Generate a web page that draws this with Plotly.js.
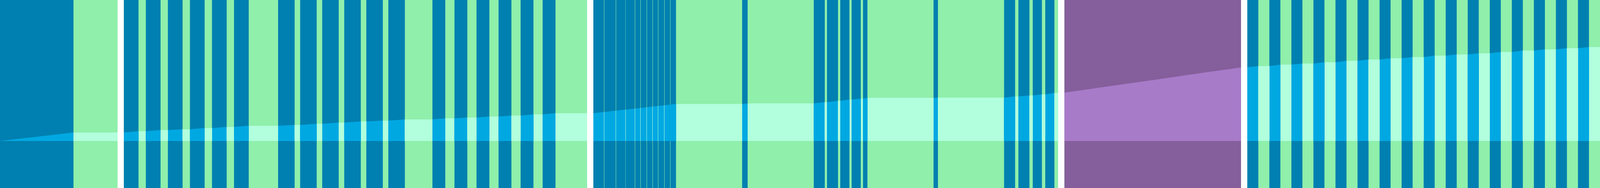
<!DOCTYPE html>
<html>
<head>
<meta charset="utf-8">
<script src="https://cdn.plot.ly/plotly-3.0.1.min.js"></script>
<style>
  html, body { margin: 0; padding: 0; background: #ffffff; overflow: hidden; }
</style>
</head>
<body>
<div id="chart"></div>
<script>
// colours: dark band / band under the line / background / background under the line
var DARK = "#0080B0", BRIGHT = "#00A8E2", GREEN = "#8FEFAB", PALE = "#B1FFDD";
var PURPLE = "#845F9B", LILAC = "#A87BC9";

// time in hours from the start of each panel, level on the y axis

// panel 1
var p1Hours = 128;
var p1DarkStart = [0];
var p1DarkEnd = [80];
var p1LineT = [0, 80, 128];
var p1LineV = [0, 7.23, 7.23];

// panel 2
var p2Hours = 504.4;
var p2DarkStart = [0, 24, 48, 72, 96, 120, 168, 192, 216, 240, 264, 288, 336, 360, 384, 408, 432, 456];
var p2DarkEnd = [16, 40, 64, 88, 112, 136, 186, 210, 234, 258, 282, 306, 350, 374, 398, 422, 446, 470];
var p2LineT = [0, 16, 24, 40, 48, 64, 72, 88, 96, 112, 120, 136, 168, 186, 192, 210, 216, 234, 240, 258, 264, 282, 288, 306,
               336, 350, 360, 374, 384, 398, 408, 422, 432, 446, 456, 470, 504.4];
var p2LineV = [7.23, 8.33, 8.33, 9.33, 9.33, 10, 10, 11, 11, 12, 12, 13, 13, 13.67, 13.67, 14.67, 14.67, 15.67, 15.67, 16.67,
               16.67, 17.33, 17.33, 18.33, 18.33, 19.33, 19.33, 20, 20, 20.83, 20.83, 21.67, 21.67, 22.67, 22.67, 23.67, 23.67];

// panel 3
var p3Hours = 506;
var p3DarkStart = [0, 12, 24.8, 35.2, 45.6, 51.6, 58.4, 64.8, 70.8, 77.6, 84, 162, 240, 254.4, 268.8, 281.2, 293.6, 370.4,
                   447.2, 462.8, 478.4, 492];
var p3DarkEnd = [11.6, 24.4, 35, 45.2, 51.2, 58, 64.4, 70.4, 77.2, 83.6, 90, 168, 252, 266.4, 278.8, 291.2, 298.4, 375.2,
                 459.2, 474.8, 488.4, 502];
var p3LineT = [0, 90, 162, 168, 240, 252, 254.4, 266.4, 268.8, 278.8, 281.2, 291.2, 293.6, 298.4, 370.4, 375.2, 447.2,
               459.2, 462.8, 474.8, 478.4, 488.4, 492, 502, 506];
var p3LineV = [23.67, 31.5, 31.5, 32, 32, 33, 33, 34.23, 34.23, 35.23, 35.23, 36, 36, 36.75, 36.75, 36.9, 36.9,
               37.9, 37.9, 38.77, 38.77, 39.67, 39.67, 40.9, 40.9];

// panel 4
var p4Hours = 192.4;
var p4DarkStart = [0];
var p4DarkEnd = [192.4];
var p4LineT = [0, 46.4, 100, 153.2, 192.4];
var p4LineV = [41.1, 46.33, 52.23, 58.33, 62.57];

// panel 5
var p5Hours = 384;
var p5DarkStart = [0, 24, 48, 72, 96, 120, 144, 168, 192, 216, 240, 264, 288, 312, 336, 360];
var p5DarkEnd = [12, 36, 60, 84, 108, 132, 156, 180, 204, 228, 252, 276, 300, 324, 348, 372];
var p5LineT = [0, 12, 24, 36, 48, 60, 72, 84, 96, 108, 120, 132, 144, 156, 168, 180, 192, 204, 216, 228, 240,
               252, 264, 276, 288, 300, 312, 324, 336, 348, 360, 372, 384];
var p5LineV = [62.77, 63.77, 63.77, 65, 65, 65.9, 65.9, 67, 67, 68.23, 68.23, 69.33, 69.33, 70.43, 70.43, 71.43, 71.43,
               72.67, 72.67, 73.67, 73.67, 74.67, 74.67, 75.77, 75.77, 77, 77, 78, 78, 79, 79, 80, 80];

var panels = [
  {hours: p1Hours, s: p1DarkStart, e: p1DarkEnd, t: p1LineT, v: p1LineV, dark: DARK, under: BRIGHT, bgUnder: PALE},
  {hours: p2Hours, s: p2DarkStart, e: p2DarkEnd, t: p2LineT, v: p2LineV, dark: DARK, under: BRIGHT, bgUnder: PALE},
  {hours: p3Hours, s: p3DarkStart, e: p3DarkEnd, t: p3LineT, v: p3LineV, dark: DARK, under: BRIGHT, bgUnder: PALE},
  {hours: p4Hours, s: p4DarkStart, e: p4DarkEnd, t: p4LineT, v: p4LineV, dark: PURPLE, under: LILAC, bgUnder: LILAC},
  {hours: p5Hours, s: p5DarkStart, e: p5DarkEnd, t: p5LineT, v: p5LineV, dark: DARK, under: BRIGHT, bgUnder: PALE}
];

// fill the window; the gap between panels is 17px on a 4355px wide figure
var FIG_W = window.innerWidth || 4355;
var FIG_H = window.innerHeight || 480;
var GAP_PX = 17 * FIG_W / 4355;

// hard-edged horizontal colour stops, one pair per band
function bandScale(p) {
  var cs = [[0, p.bgUnder]];
  for (var i = 0; i < p.s.length; i++) {
    var a = p.s[i] / p.hours, b = Math.min(p.e[i] / p.hours, 1);
    cs.push([a, p.bgUnder], [a, p.under], [b, p.under], [b, p.bgUnder]);
  }
  cs.push([1, p.bgUnder]);
  return cs;
}

var totalHours = 0;
panels.forEach(function (p) { totalHours += p.hours; });
var pxPerHour = (FIG_W - GAP_PX * (panels.length - 1)) / totalHours;

var data = [];
var shapes = [];
var layout = {
  width: FIG_W,
  height: FIG_H,
  margin: {l: 0, r: 0, t: 0, b: 0, pad: 0},
  paper_bgcolor: "#ffffff",
  plot_bgcolor: GREEN,
  showlegend: false,
  yaxis: {range: [-40, 120], visible: false, fixedrange: true, domain: [0, 1]}
};

var left = 0;
panels.forEach(function (p, i) {
  var name = i === 0 ? "x" : "x" + (i + 1);
  var w = p.hours * pxPerHour;
  layout[i === 0 ? "xaxis" : "xaxis" + (i + 1)] = {
    domain: [left / FIG_W, Math.min((left + w) / FIG_W, 1)],
    range: [0, p.hours],
    visible: false,
    fixedrange: true,
    anchor: "y"
  };
  left += w + GAP_PX;

  for (var k = 0; k < p.s.length; k++) {
    shapes.push({
      type: "rect", layer: "below",
      xref: name, yref: "paper",
      x0: p.s[k], x1: p.e[k], y0: 0, y1: 1,
      fillcolor: p.dark, line: {width: 0}
    });
  }

  data.push({
    type: "scatter",
    x: p.t,
    y: p.v,
    xaxis: name,
    yaxis: "y",
    mode: "none",
    fill: "tozeroy",
    fillgradient: {type: "horizontal", colorscale: bandScale(p), start: 0, stop: p.hours},
    hoverinfo: "skip"
  });
});

layout.shapes = shapes;

document.getElementById("chart").style.width = FIG_W + "px";
document.getElementById("chart").style.height = FIG_H + "px";
Plotly.newPlot("chart", data, layout, {displayModeBar: false, staticPlot: true});
</script>
</body>
</html>
